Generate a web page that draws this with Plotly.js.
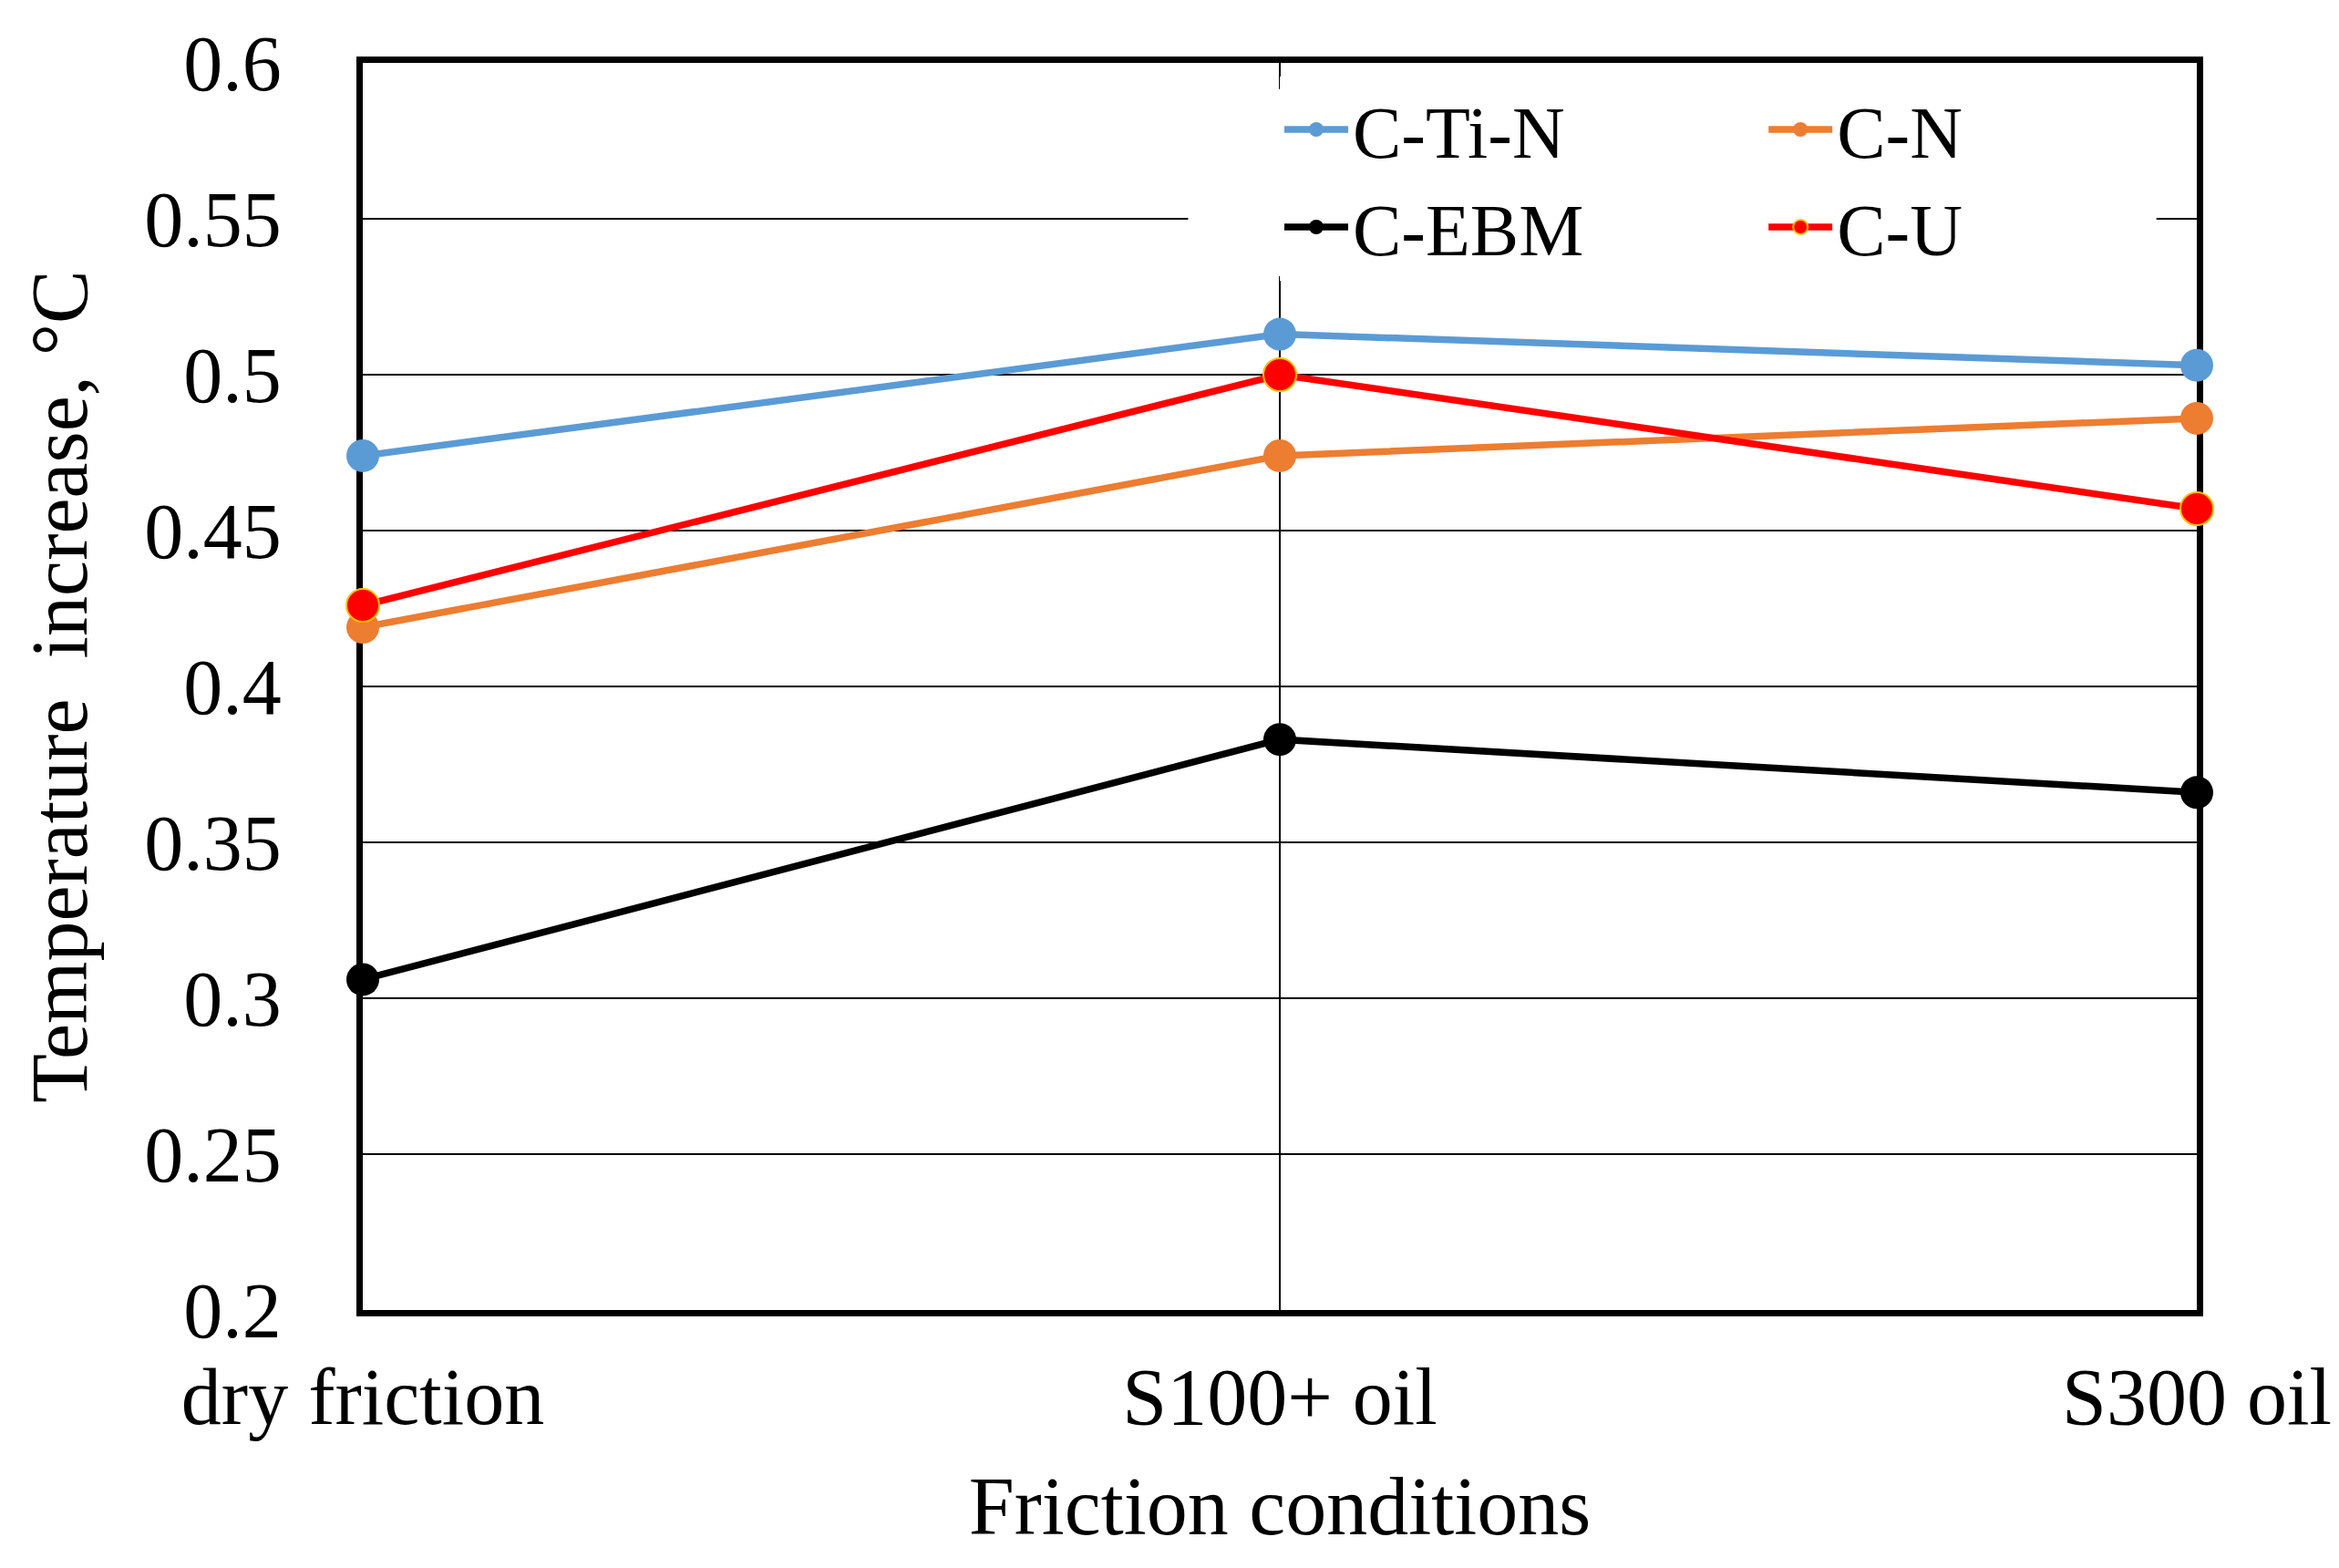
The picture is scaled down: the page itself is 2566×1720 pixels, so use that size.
<!DOCTYPE html>
<html>
<head>
<meta charset="utf-8">
<script src="https://cdn.plot.ly/plotly-3.0.1.min.js"></script>
<style>html,body{margin:0;padding:0;background:#fff;}#chart{width:2566px;height:1720px;}</style>
</head>
<body>
<div id="chart"></div>
<script>
const categories = ["dry friction", "S100+ oil", "S300 oil"];
const seriesNames = ["C-Ti-N", "C-N", "C-EBM", "C-U"];
const cTiN = [0.474, 0.513, 0.503];
const cN = [0.419, 0.474, 0.486];
const cEBM = [0.306, 0.383, 0.366];
const cU = [0.426, 0.500, 0.457];
const colors = ["#5B9BD5", "#ED7D31", "#000000", "#FF0000"];
const legendOf = ["legend", "legend2", "legend", "legend2"];
const values = [cTiN, cN, cEBM, cU];

const FONT = "'Palatino Linotype', 'Book Antiqua', Palatino, 'Liberation Serif', serif";

const traces = seriesNames.map((name, i) => ({
  type: "scatter",
  mode: "lines+markers",
  name: name,
  x: categories,
  y: values[i],
  legend: legendOf[i],
  cliponaxis: false,
  line: {color: colors[i], width: 7.5},
  marker: {color: colors[i], size: 36,
           line: {width: i === 3 ? 2 : 0, color: "#FFC000"}}
}));

const layout = {
  width: 2566,
  height: 1720,
  margin: {l: 398, r: 156, t: 69, b: 283},
  paper_bgcolor: "#ffffff",
  plot_bgcolor: "#ffffff",
  font: {family: FONT, color: "#000000"},
  showlegend: true,
  xaxis: {
    type: "category",
    range: [0, 2],
    showgrid: true,
    gridcolor: "#000000",
    gridwidth: 2,
    showline: true,
    linecolor: "#000000",
    linewidth: 7,
    mirror: true,
    ticks: "",
    ticklabelstandoff: 12,
    tickfont: {family: FONT, size: 88, color: "#000"},
    layer: "below traces",
    zeroline: false,
    title: {text: "Friction conditions", font: {family: FONT, size: 90, color: "#000"}, standoff: 43}
  },
  yaxis: {
    range: [0.2, 0.6],
    dtick: 0.05,
    tick0: 0.2,
    showgrid: true,
    gridcolor: "#000000",
    gridwidth: 2,
    showline: true,
    linecolor: "#000000",
    linewidth: 7,
    mirror: true,
    ticks: "",
    ticklabelstandoff: 65,
    tickfont: {family: FONT, size: 86, color: "#000"},
    layer: "below traces",
    zeroline: false,
    title: {text: "Temperature  increase, °C", font: {family: FONT, size: 88, color: "#000"}, standoff: 36}
  },
  legend: {
    x: 0.5, xanchor: "left", y: 0.9894, yanchor: "top",
    bgcolor: "#ffffff", borderwidth: 0,
    itemwidth: 70,
    font: {family: FONT, size: 80, color: "#000"},
    traceorder: "normal"
  },
  legend2: {
    x: 0.764, xanchor: "left", y: 0.9894, yanchor: "top",
    bgcolor: "#ffffff", borderwidth: 0,
    itemwidth: 70,
    font: {family: FONT, size: 80, color: "#000"},
    traceorder: "normal"
  },
  shapes: [{
    type: "rect", xref: "paper", yref: "paper",
    x0: 0.450, x1: 0.978, y0: 0.829, y1: 0.979,
    fillcolor: "#ffffff", line: {width: 0}, layer: "above"
  }]
};

Plotly.newPlot("chart", traces, layout, {displayModeBar: false, staticPlot: true});
</script>
</body>
</html>
